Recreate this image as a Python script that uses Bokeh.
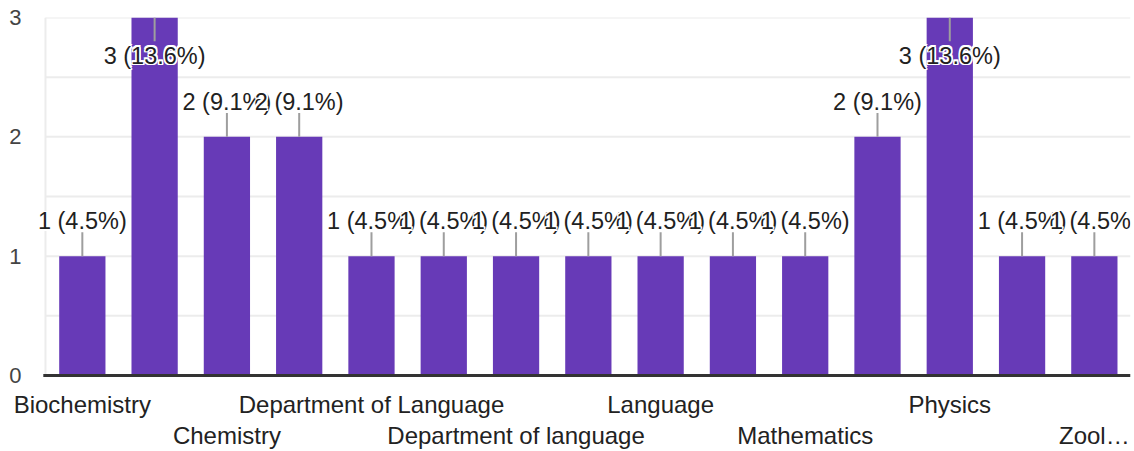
from bokeh.plotting import figure
from bokeh.models import Range1d, FixedTicker, LinearAxis, ColumnDataSource, LabelSet
from bokeh.core.properties import value
from bokeh.embed import file_html
from bokeh.resources import INLINE

# ---- data ----
categories = ["Biochemistry", "", "Chemistry", "", "Department of Language", "",
              "Department of language", "", "Language", "", "Mathematics", "",
              "Physics", "", "Zool\u2026"]
counts = [1, 3, 2, 2, 1, 1, 1, 1, 1, 1, 1, 2, 3, 1, 1]
percent_labels = ["4.5%", "13.6%", "9.1%", "9.1%", "4.5%", "4.5%", "4.5%", "4.5%",
                  "4.5%", "4.5%", "4.5%", "9.1%", "13.6%", "4.5%", "4.5%"]
y_ticks = [0, 1, 2, 3]
y_minor_ticks = [0.5, 1.5, 2.5]

FONT = "Liberation Sans"
BAR = "#673ab7"
GRID = "#ececec"
LABEL_SIZE = "23.5px"
CAT_SIZE = "24px"

pos = list(range(1, len(categories) + 1))
ymax = max(y_ticks)
inside = [c >= ymax for c in counts]
texts = [f"{c} ({p})" for c, p in zip(counts, percent_labels)]
lead = 0.2
src = ColumnDataSource(dict(
    x=pos, top=counts, text=texts,
    y1=[c - lead if ins else c + lead for c, ins in zip(counts, inside)],
))

# plot area: the visible chart area starts at x=0.49; the frame extends a bit
# further left so that the first value label is not clipped
x_left, x_right = 0.49, 15.5
p = figure(width=1134, height=451, x_range=Range1d(0.283, x_right),
           y_range=Range1d(-0.025, ymax),
           x_axis_location=None, output_backend="svg", toolbar_location=None,
           min_border_left=30, min_border_right=4, min_border_top=17, min_border_bottom=73)
p.outline_line_color = None
p.background_fill_color = "white"
p.border_fill_color = "white"
p.xgrid.grid_line_color = None
p.ygrid.grid_line_color = None

# grid lines and chart frame
grid_y = sorted(y_ticks + y_minor_ticks)
p.segment(x0=x_left, y0=grid_y, x1=x_right, y1=grid_y, line_color=GRID, line_width=2)
p.segment(x0=x_left, y0=0, x1=x_left, y1=ymax, line_color=GRID, line_width=2)

# y axis
ya = p.yaxis[0]
ya.ticker = FixedTicker(ticks=y_ticks, minor_ticks=y_minor_ticks)
ya.axis_line_color = None
ya.major_tick_line_color = None
ya.minor_tick_line_color = None
ya.major_tick_out = 0
ya.minor_tick_out = 0
ya.major_label_standoff = 9
ya.major_label_text_font = FONT
ya.major_label_text_font_size = "22px"
ya.major_label_text_color = "#444444"

# two staggered rows of category labels
visible = [i for i, c in enumerate(categories) if c]
row1 = visible[0::2]
row2 = visible[1::2]

def cat_axis(rows, standoff):
    ax = LinearAxis(ticker=FixedTicker(ticks=[pos[i] for i in rows]),
                    major_label_overrides={pos[i]: categories[i] for i in rows})
    ax.axis_line_color = "#333333"
    ax.axis_line_alpha = 0
    ax.axis_line_width = 3
    ax.major_tick_line_color = None
    ax.minor_tick_line_color = None
    ax.major_tick_out = 0
    ax.minor_tick_out = 0
    ax.major_label_standoff = standoff
    ax.major_label_text_font = FONT
    ax.major_label_text_font_size = CAT_SIZE
    ax.major_label_text_color = "#222222"
    return ax

p.add_layout(cat_axis(row1, 12), "below")
p.add_layout(cat_axis(row2, 1), "below")

# bars
p.vbar(x="x", top="top", bottom=0, width=0.64, source=src, fill_color=BAR, line_color=None)

# baseline
p.segment(x0=x_left - 0.03, y0=0, x1=x_right, y1=0, line_color="#333333", line_width=3)

# leader lines
p.segment(x0="x", y0="top", x1="x", y1="y1", source=src, line_color="#9e9e9e", line_width=2)

# value labels, each with a white halo, drawn in order so later ones overlap earlier ones
halo = [(-1.5, -1.5), (0, -1.5), (1.5, -1.5), (-1.5, 0), (1.5, 0),
        (-1.5, 1.5), (0, 1.5), (1.5, 1.5)]
for i in range(len(counts)):
    one = ColumnDataSource(dict(x=[pos[i]], y=[counts[i]], text=[texts[i]]))
    base = -38 if inside[i] else 35
    for dx, dy in halo:
        p.add_layout(LabelSet(x="x", y="y", text="text", source=one,
                              x_offset=dx, y_offset=base + dy,
                              text_align="center", text_baseline="middle",
                              text_font=value(FONT), text_font_size=LABEL_SIZE,
                              text_color="white"))
    p.add_layout(LabelSet(x="x", y="y", text="text", source=one, y_offset=base,
                          text_align="center", text_baseline="middle",
                          text_font=value(FONT), text_font_size=LABEL_SIZE,
                          text_color="#212121"))

open("out.html", "w").write(file_html(p, INLINE))
